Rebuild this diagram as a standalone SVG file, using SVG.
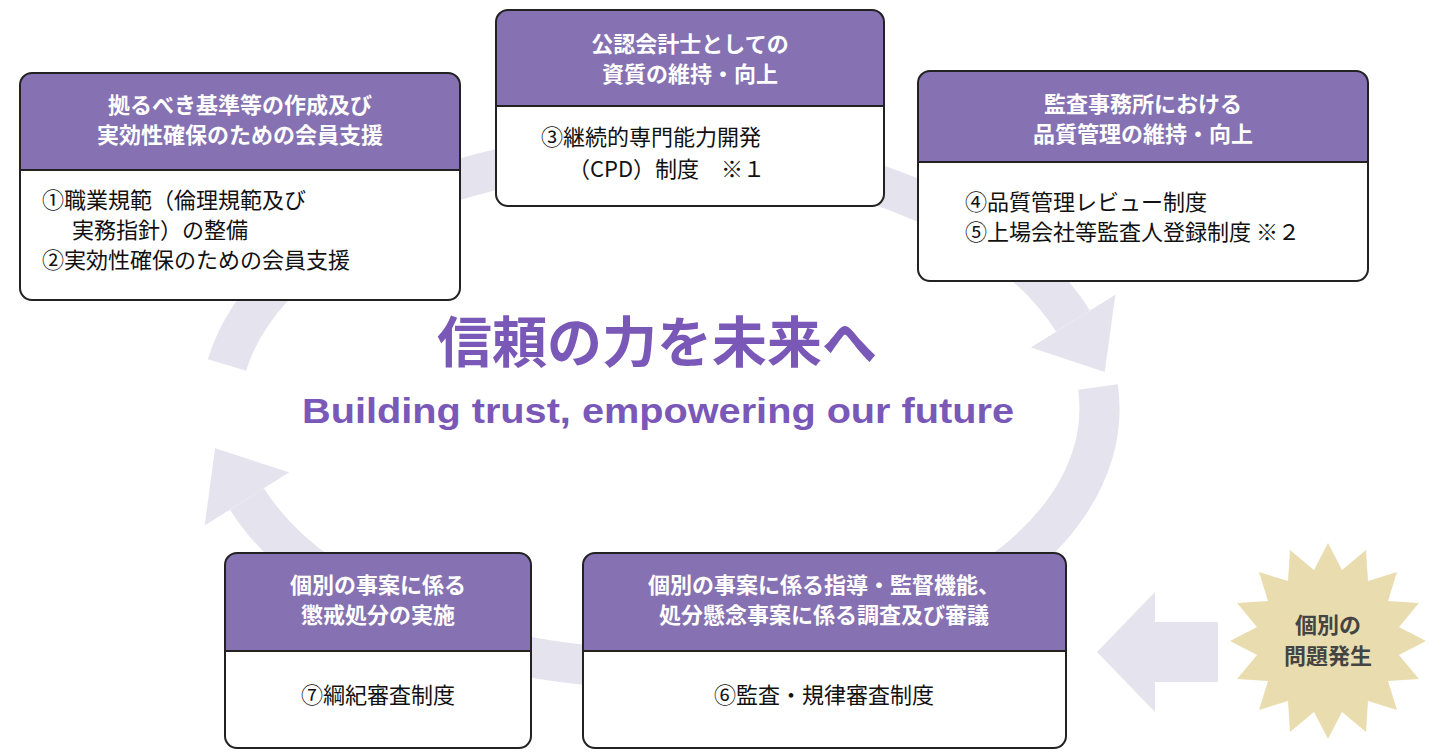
<svg xmlns="http://www.w3.org/2000/svg" width="1432" height="753" viewBox="0 0 1432 753">
<defs>
<style>
.ring{fill:none;stroke:#e5e3ee;stroke-width:40}
.hd{fill:#8672b2}
.bd{fill:#fff}
.ol{fill:none;stroke:#222;stroke-width:2}
.ht{font-family:"Noto Sans CJK JP","Noto Sans",sans-serif;font-weight:bold;font-size:22px;fill:#fff;text-anchor:middle}
.bt{font-family:"Noto Sans CJK JP","Noto Sans",sans-serif;font-size:22px;fill:#111}
</style>
<marker id="ah" viewBox="0 0 60 100" refX="0" refY="50" markerWidth="60" markerHeight="100" markerUnits="userSpaceOnUse" orient="auto">
<path d="M0,0 L60,50 L0,100 z" fill="#e5e3ee"/>
</marker>
</defs>
<rect width="1432" height="753" fill="#fff"/>
<g id="connectors">
<path class="ring" d="M 227 365 A 440 260 0 0 1 1073 321" marker-end="url(#ah)"/>
<path class="ring" d="M 1098 387 A 440 260 0 0 1 247 499" marker-end="url(#ah)"/>
<polygon points="1097,652 1155,592 1155,622 1218,622 1218,682 1155,682 1155,712" fill="#e5e3ee"/>
</g>
<g id="title">
<text x="657" y="362" font-family="'Noto Sans CJK JP',sans-serif" font-weight="bold" font-size="55" fill="#7a58b8" text-anchor="middle">信頼の力を未来へ</text>
<text x="658" y="423" font-family="'Liberation Sans',Arial,sans-serif" font-weight="bold" font-size="35" fill="#7a58b8" text-anchor="middle" textLength="712" lengthAdjust="spacingAndGlyphs">Building trust, empowering our future</text>
</g>
<g id="box1">
<rect class="bd" x="20" y="73" width="440" height="227" rx="12"/>
<path class="hd" d="M20,170 V85 Q20,73 32,73 H448 Q460,73 460,85 V170 Z"/>
<rect class="ol" x="20" y="73" width="440" height="227" rx="12"/>
<line class="ol" x1="20" y1="170" x2="460" y2="170"/>
<text class="ht" x="240" y="113">拠るべき基準等の作成及び</text>
<text class="ht" x="240" y="143">実効性確保のための会員支援</text>
<text class="bt" x="42" y="208">①職業規範（倫理規範及び</text>
<text class="bt" x="72" y="238">実務指針）の整備</text>
<text class="bt" x="42" y="268">②実効性確保のための会員支援</text>
</g>
<g id="box2">
<rect class="bd" x="496" y="10" width="388" height="196" rx="12"/>
<path class="hd" d="M496,106 V22 Q496,10 508,10 H872 Q884,10 884,22 V106 Z"/>
<rect class="ol" x="496" y="10" width="388" height="196" rx="12"/>
<line class="ol" x1="496" y1="106" x2="884" y2="106"/>
<text class="ht" x="690" y="52">公認会計士としての</text>
<text class="ht" x="690" y="82">資質の維持・向上</text>
<text class="bt" x="541" y="145">③継続的専門能力開発</text>
<text class="bt" x="568" y="177">（CPD）制度　※１</text>
</g>
<g id="box3">
<rect class="bd" x="918" y="71" width="450" height="210" rx="12"/>
<path class="hd" d="M918,162 V83 Q918,71 930,71 H1356 Q1368,71 1368,83 V162 Z"/>
<rect class="ol" x="918" y="71" width="450" height="210" rx="12"/>
<line class="ol" x1="918" y1="162" x2="1368" y2="162"/>
<text class="ht" x="1143" y="112">監査事務所における</text>
<text class="ht" x="1143" y="142">品質管理の維持・向上</text>
<text class="bt" x="965" y="210">④品質管理レビュー制度</text>
<text class="bt" x="965" y="240">⑤上場会社等監査人登録制度 ※２</text>
</g>
<g id="box4">
<rect class="bd" x="225" y="553" width="306" height="195" rx="12"/>
<path class="hd" d="M225,651 V565 Q225,553 237,553 H519 Q531,553 531,565 V651 Z"/>
<rect class="ol" x="225" y="553" width="306" height="195" rx="12"/>
<line class="ol" x1="225" y1="651" x2="531" y2="651"/>
<text class="ht" x="378" y="593">個別の事案に係る</text>
<text class="ht" x="378" y="623">懲戒処分の実施</text>
<text class="bt" x="378" y="703" text-anchor="middle">⑦綱紀審査制度</text>
</g>
<g id="box5">
<rect class="bd" x="583" y="553" width="483" height="195" rx="12"/>
<path class="hd" d="M583,651 V565 Q583,553 595,553 H1054 Q1066,553 1066,565 V651 Z"/>
<rect class="ol" x="583" y="553" width="483" height="195" rx="12"/>
<line class="ol" x1="583" y1="651" x2="1066" y2="651"/>
<text class="ht" x="824" y="593">個別の事案に係る指導・監督機能、</text>
<text class="ht" x="824" y="623">処分懸念事案に係る調査及び審議</text>
<text class="bt" x="824" y="703" text-anchor="middle">⑥監査・規律審査制度</text>
</g>
<g id="burst">
<polygon fill="#e9ddb0" points="1328,543 1342,570 1366,550 1368,581 1397,572 1388,601 1419,603 1399,627 1426,641 1399,655 1419,679 1388,681 1397,710 1368,701 1366,732 1342,712 1328,739 1314,712 1290,732 1288,701 1259,710 1268,681 1237,679 1257,655 1230,641 1257,627 1237,603 1268,601 1259,572 1288,581 1290,550 1314,570"/>
<text x="1328" y="633" font-family="'Noto Sans CJK JP',sans-serif" font-weight="bold" font-size="22" fill="#444" text-anchor="middle">個別の</text>
<text x="1328" y="664" font-family="'Noto Sans CJK JP',sans-serif" font-weight="bold" font-size="22" fill="#444" text-anchor="middle">問題発生</text>
</g>
</svg>
